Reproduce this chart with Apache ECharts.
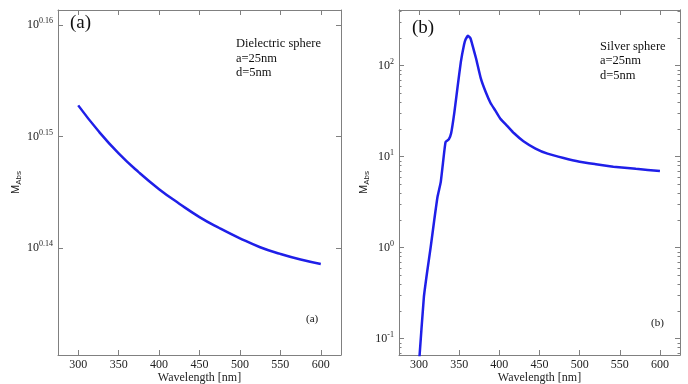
<!DOCTYPE html>
<html><head><meta charset="utf-8">
<script src="https://cdn.jsdelivr.net/npm/echarts@6/dist/echarts.min.js"></script>
<style>html,body{margin:0;padding:0;background:#fff}#c{width:688px;height:384px}</style>
</head><body><div id="c"></div>
<script>
// Panel (a): dielectric sphere, values are exponents of 10 (M_Abs = 10^x)
const wavelengthA = [300,325,350,375,400,425,450,475,500,525,550,575,600];
const expA = [0.1528,0.1505,0.1485,0.1468,0.1453,0.1440,0.1428,0.1418,0.1409,0.1401,0.1395,0.1390,0.1386];
// Panel (b): silver sphere, M_Abs values
const wavelengthB = [300,306,310,314.5,319,323,327,330,333,337,340,344,348,352,356,358,361,364,367,371,377,383,389,395,401,410,418,430,445,460,480,500,520,542,570,600];
const mAbsB = [0.055,0.288,0.537,1.02,2.04,3.63,5.25,8.9,14.5,15.5,18.2,30.9,58.9,109.6,170,195,214,200,162,120,72,51.3,38.9,32.1,26.3,21.7,18.2,14.8,12.3,10.8,9.66,8.81,8.28,7.76,7.35,6.97];
// tick values
const xTicks = [300,350,400,450,500,550,600];
const yTicksA = [0.14,0.15,0.16];
const yTicksB = [-1,0,1,2];
const yMinorB = [0.07,0.08,0.09,0.2,0.3,0.4,0.5,0.6,0.7,0.8,0.9,2,3,4,5,6,7,8,9,20,30,40,50,60,70,80,90,200,300,400].map(v=>Math.log10(v));

const frameColor = '#808080';
const serif = 'Liberation Serif';
const lineColor = '#1f1fe8';

function xAx(grid, pos, labels){
  return {type:'value', gridIndex:grid, position:pos, min:275, max:625,
    axisLine:{show:true, onZero:false, lineStyle:{color:frameColor, width:1}},
    axisTick:{show:true, inside:true, length:5, customValues:xTicks, lineStyle:{color:frameColor}},
    axisLabel:{show:labels, customValues:xTicks, fontFamily:serif, fontSize:12, color:'#222', margin:4},
    splitLine:{show:false},
    name: labels ? 'Wavelength [nm]' : '', nameLocation:'middle', nameGap:17, nameMoveOverlap:false,
    nameTextStyle:{fontFamily:serif, fontSize:12, color:'#222', verticalAlign:'top'}};
}
function yAx(grid, pos, min, max, ticks, labels, len, fmt, name, gap){
  return {type:'value', gridIndex:grid, position:pos, min:min, max:max,
    axisLine:{show:true, onZero:false, lineStyle:{color:frameColor, width:1}},
    axisTick:{show:true, inside:true, length:len, customValues:ticks, lineStyle:{color:frameColor}},
    axisLabel:{show:labels, customValues:ticks, margin:5, formatter:fmt,
      rich:{b:{fontFamily:serif, fontSize:12, color:'#222'}, e:{fontFamily:serif, fontSize:8, color:'#222', padding:[0,0,8,0]}}},
    splitLine:{show:false},
    name: name || '', nameLocation:'middle', nameGap: gap || 30, nameRotate:90, nameMoveOverlap:false,
    nameTextStyle:{rich:{m:{fontFamily:'Liberation Sans', fontSize:11, color:'#222'}, s:{fontFamily:'Liberation Sans', fontSize:8, color:'#222', padding:[6,0,0,0]}}}};
}
const fmtA = v => '{b|10}{e|' + v.toFixed(2) + '}';
const fmtB = v => '{b|10}{e|' + Math.round(v) + '}';
const yNm = '{m|M}{s|Abs}';

const option = {
  animation:false,
  grid:[{left:58, top:10, width:283, height:345, outerBoundsMode:'none', containLabel:false},
        {left:399, top:10, width:281, height:345, outerBoundsMode:'none', containLabel:false}],
  xAxis:[xAx(0,'bottom',true), xAx(0,'top',false), xAx(1,'bottom',true), xAx(1,'top',false)],
  yAxis:[
    yAx(0,'left',0.13045,0.16134,yTicksA,true,5,fmtA,yNm,35),
    yAx(0,'right',0.13045,0.16134,yTicksA,false,5,fmtA),
    yAx(1,'left',-1.179,2.612,yTicksB,true,5,fmtB,yNm,28),
    yAx(1,'right',-1.179,2.612,yTicksB,false,5,fmtB),
    yAx(1,'left',-1.179,2.612,yMinorB,false,2.5,fmtB),
    yAx(1,'right',-1.179,2.612,yMinorB,false,2.5,fmtB)
  ],
  series:[
    {type:'line', xAxisIndex:0, yAxisIndex:0, smooth:true, symbol:'none',
     lineStyle:{color:lineColor, width:2.5}, data:wavelengthA.map((w,i)=>[w,expA[i]])},
    {type:'line', xAxisIndex:2, yAxisIndex:2, smooth:0.12, symbol:'none', clip:true,
     lineStyle:{color:lineColor, width:2.5}, data:wavelengthB.map((w,i)=>[w,Math.log10(mAbsB[i])])}
  ],
  graphic:[
    {type:'text', left:70, top:14, style:{text:'(a)', fontFamily:serif, fontSize:19, fill:'#111'}},
    {type:'text', left:412, top:19, style:{text:'(b)', fontFamily:serif, fontSize:19, fill:'#111'}},
    {type:'text', left:236, top:37, style:{text:'Dielectric sphere\na=25nm\nd=5nm', fontFamily:serif, fontSize:12.5, lineHeight:14.3, fill:'#111'}},
    {type:'text', left:600, top:39, style:{text:'Silver sphere\na=25nm\nd=5nm', fontFamily:serif, fontSize:12.5, lineHeight:14.8, fill:'#111'}},
    {type:'text', left:306, top:314, style:{text:'(a)', fontFamily:serif, fontSize:11, fill:'#111'}},
    {type:'text', left:651, top:318, style:{text:'(b)', fontFamily:serif, fontSize:11, fill:'#111'}}
  ]
};
echarts.init(document.getElementById('c')).setOption(option);
</script></body></html>
